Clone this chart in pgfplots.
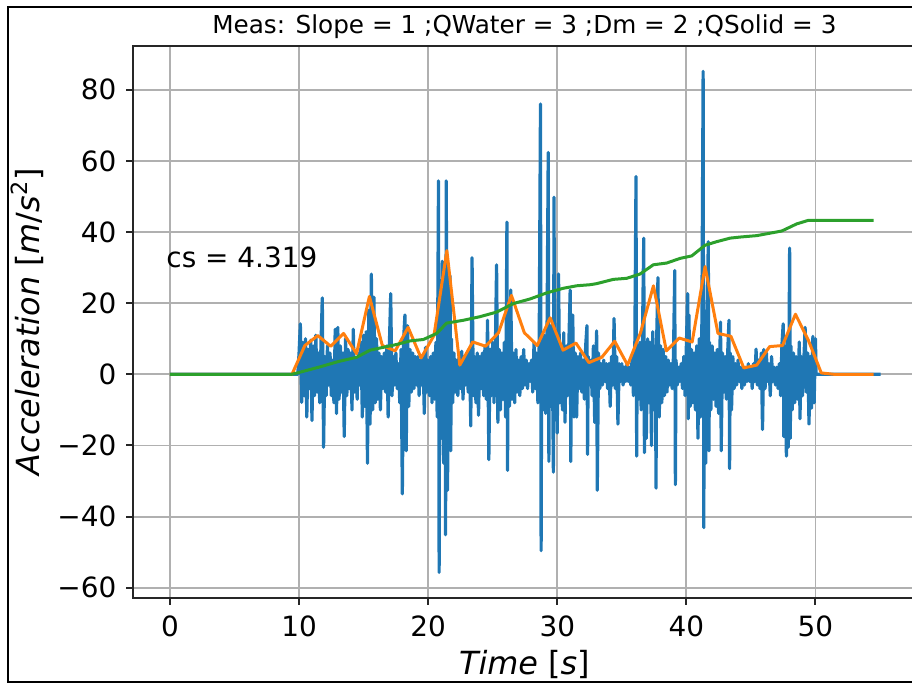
\documentclass[border=0pt]{standalone}
\usepackage{fontspec}
\setmainfont{DejaVu Sans}
\usepackage{pgfplots}
\pgfplotsset{compat=1.18}

\definecolor{mblue}{HTML}{1F77B4}
\definecolor{morange}{HTML}{FF7F0E}
\definecolor{mgreen}{HTML}{2CA02C}
\definecolor{mgrid}{HTML}{B0B0B0}
\definecolor{mspine}{HTML}{262626}

\begin{document}
\begin{tikzpicture}
\useasboundingbox (0,0) rectangle (456bp,343.5bp);
\clip (0,0) rectangle (456bp,343.5bp);
\begin{axis}[
    at={(66.65bp,44.65bp)}, anchor=south west,
    scale only axis,
    width=391.1bp, height=276bp,
    xmin=-2.84, xmax=57.75,
    ymin=-62.8, ymax=92.4,
    xtick={0,10,20,30,40,50},
    ytick={-60,-40,-20,0,20,40,60,80},
    yticklabels={−60,−40,−20,0,20,40,60,80},
    /pgf/number format/assume math mode=true,
    tick label style={font=\fontsize{14}{16}\selectfont, inner sep=0pt},
    xticklabel style={yshift=-5.2bp},
    yticklabel style={xshift=-4.8bp},
    tick pos=left,
    tick align=outside,
    major tick length=3.5bp,
    tick style={mspine, line width=1bp},
    axis line style={mspine, line width=1bp},
    grid=major,
    major grid style={mgrid, line width=0.9bp},
    every axis title/.style={at={(axis description cs:0.5,1.023)}, anchor=base, font=\fontsize{12.4}{14}\selectfont},
    title={Meas: Slope = 1 ;QWater = 3 ;Dm = 2 ;QSolid = 3},
    every axis x label/.style={at={(axis description cs:0.5,-0.14)}, anchor=base, font=\fontsize{16}{19}\selectfont},
    xlabel={\textit{Time} [\textit{s}]},
    every axis y label/.style={at={(axis description cs:-0.1193,0.5)}, rotate=90, anchor=base, font=\fontsize{16}{19}\selectfont},
    ylabel={\textit{Acceleration} [\textit{m}/\textit{s}\textsuperscript{2}]},
    every axis plot/.append style={line width=1.5bp, line join=round},
]

% raw signal
\addplot[mblue, line width=1.6bp] coordinates {
(0,0) (9.8,0) (9.9,0)
(10.0,6) (10.1,14.2) (10.2,-7.9) (10.3,9) (10.4,-6) (10.5,10) (10.6,-12) (10.7,7) (10.8,-4) (10.9,9.6)
(11.0,-13) (11.1,8) (11.2,-6) (11.3,11) (11.4,-5) (11.5,6) (11.6,-8) (11.7,9) (11.8,21.5) (11.9,-20.5)
(12.0,5) (12.1,-6) (12.2,8) (12.3,-3) (12.4,6) (12.5,-6) (12.6,4) (12.7,-8) (12.8,12.7) (12.9,-11)
(13.0,13.2) (13.1,-7) (13.2,8) (13.3,-5) (13.4,6) (13.5,-17.5) (13.6,10) (13.7,-6) (13.8,7) (13.9,-4)
(14.0,6) (14.1,-10) (14.2,12.7) (14.3,-5) (14.4,4) (14.5,-7) (14.6,6) (14.7,-3) (14.8,9) (14.9,-12)
(15.0,11) (15.1,-9) (15.2,12) (15.3,-25) (15.4,18) (15.5,-14) (15.6,28.2) (15.7,-10) (15.8,21.7) (15.9,-8)
(16.0,10) (16.1,-7) (16.2,6) (16.3,-10) (16.4,5) (16.5,-4) (16.6,6) (16.7,-5) (16.8,8) (16.9,-12)
(17.0,9) (17.1,22.7) (17.2,-6) (17.3,5) (17.4,-3) (17.5,6) (17.6,-4) (17.7,3) (17.8,-8) (17.9,7)
(18.0,-33.6) (18.1,10) (18.2,16.7) (18.3,-21.5) (18.4,13.7) (18.5,-9) (18.6,7) (18.7,-5) (18.8,6) (18.9,-4)
(19.0,5) (19.1,-3) (19.2,5) (19.3,-6) (19.4,4) (19.5,-3) (19.6,5) (19.7,-11) (19.8,7.6) (19.9,-5)
(20.0,4) (20.1,-6) (20.2,5) (20.3,-8) (20.4,6) (20.5,-7) (20.6,9) (20.7,-12) (20.8,54.4) (20.85,-55.7)
(20.9,20) (21.0,-18) (21.1,31.8) (21.2,-25) (21.3,22) (21.35,-45.1) (21.4,54.4) (21.5,-32.6) (21.6,20) (21.7,27.7)
(21.75,-21.5) (21.8,10) (21.9,-8) (22.0,6) (22.1,-5) (22.2,4) (22.3,-6) (22.4,5) (22.5,-4) (22.6,6.5)
(22.7,-7) (22.8,5) (22.9,-3) (23.0,6) (23.1,-5) (23.2,7) (23.3,-14.5) (23.4,32.8) (23.5,-6) (23.6,5)
(23.7,-8) (23.8,6) (23.9,-11.5) (24.0,5) (24.1,-4) (24.2,6) (24.3,-6) (24.4,8) (24.5,-7) (24.6,15.2)
(24.7,-24) (24.8,7) (24.9,-6) (25.0,9) (25.1,-8) (25.2,6) (25.3,30.8) (25.4,-13.5) (25.5,7) (25.6,-10)
(25.7,6) (25.8,-7) (25.9,9) (26.0,-12) (26.1,42.8) (26.15,-27) (26.2,12) (26.3,-9) (26.4,23.7) (26.5,-7)
(26.6,6) (26.7,-8) (26.8,7) (26.9,-5) (27.0,4) (27.1,-6) (27.2,5) (27.3,-4) (27.4,7) (27.5,-3)
(27.6,4) (27.7,-4) (27.8,3) (27.9,-2) (28.0,4) (28.1,-5) (28.2,9) (28.3,-4) (28.4,6) (28.5,-8)
(28.6,8.6) (28.7,76) (28.75,-49.6) (28.8,10) (28.9,-10) (29.0,11) (29.1,-11) (29.2,8) (29.3,62.4) (29.35,-24.5)
(29.4,12) (29.5,-9) (29.6,14) (29.7,-27.5) (29.75,49.8) (29.8,-12) (29.9,10) (30.0,-16.5) (30.1,28.2) (30.2,-8)
(30.3,7) (30.4,-10) (30.5,11.7) (30.6,-13.5) (30.7,8) (30.8,-6) (30.9,9) (31.0,23.7) (31.05,-24.5) (31.1,7)
(31.2,16.7) (31.3,-12) (31.4,6) (31.5,-12) (31.6,5) (31.7,-4) (31.8,6) (31.9,-5) (32.0,4) (32.1,-7)
(32.2,8) (32.3,13.7) (32.35,-22.5) (32.4,5) (32.5,-3) (32.6,4) (32.7,-6) (32.8,8) (32.9,-13.5) (33.0,5)
(33.05,12.2) (33.1,-32.6) (33.2,6) (33.3,-4) (33.4,3) (33.5,-3) (33.6,4) (33.7,-2) (33.8,3) (33.9,-4)
(34.0,3) (34.1,-9) (34.2,5) (34.3,-3) (34.4,15.7) (34.5,-4) (34.6,5) (34.7,-14) (34.8,3) (34.9,-2)
(35.0,3) (35.1,-3) (35.2,2) (35.3,-2) (35.4,3) (35.5,-2) (35.6,2) (35.7,-3) (35.8,5) (35.9,-6)
(36.0,4) (36.1,55.6) (36.15,-23) (36.2,8) (36.3,-7) (36.4,9) (36.5,-10) (36.6,11) (36.7,38.3) (36.75,-22)
(36.8,8) (36.9,-18) (37.0,10) (37.1,-8) (37.2,9) (37.3,-20) (37.4,12) (37.5,-10) (37.6,8) (37.65,-32)
(37.7,10) (37.8,27.2) (37.9,-12) (38.0,8) (38.1,-8) (38.2,7) (38.3,-6) (38.4,5) (38.5,-5) (38.6,4)
(38.7,-3) (38.8,3) (38.9,-4) (39.0,5) (39.1,29.2) (39.15,-31) (39.2,4) (39.3,-3) (39.4,2) (39.5,-2)
(39.6,3) (39.7,-4) (39.8,5) (39.9,-6) (40.0,8) (40.1,22.7) (40.15,-12.5) (40.2,16.7) (40.3,-9) (40.4,7)
(40.5,-8) (40.6,6) (40.7,-10) (40.8,8) (40.9,-18) (41.0,10) (41.1,-12) (41.2,14) (41.3,85.2) (41.35,-43.1)
(41.4,18) (41.5,-25) (41.6,15) (41.7,37.3) (41.75,-21.5) (41.8,9) (41.9,-10) (42.0,8) (42.1,-7) (42.2,6)
(42.3,-9) (42.4,7) (42.5,-11) (42.6,8) (42.65,14.7) (42.7,-21.5) (42.8,6) (42.9,-5) (43.0,5) (43.1,-7)
(43.2,6) (43.3,15.2) (43.35,-26.5) (43.4,6) (43.5,-10) (43.6,5) (43.7,-4) (43.8,3) (43.9,-3) (44.0,4)
(44.1,-2) (44.2,2) (44.3,-4) (44.4,2) (44.5,-3) (44.6,2) (44.7,-2) (44.8,3) (44.9,-2) (45.0,2)
(45.1,-4) (45.2,3) (45.3,-2) (45.4,7.1) (45.5,-3) (45.6,4) (45.7,-4) (45.8,6) (45.9,-15.5) (46.0,7)
(46.1,-4) (46.2,6) (46.3,-2) (46.4,3) (46.5,-6) (46.6,5) (46.7,-2) (46.8,2) (46.9,-3) (47.0,2)
(47.1,-4) (47.2,3) (47.3,-6) (47.4,8) (47.5,14.2) (47.55,-17.5) (47.6,8) (47.7,-12) (47.75,-23) (47.8,10)
(47.9,-20.5) (48.0,35.5) (48.05,-18) (48.1,8) (48.2,-10) (48.3,6) (48.4,-8) (48.5,5) (48.6,-7) (48.75,9.1)
(48.8,-12.5) (48.9,5) (49.0,-6) (49.1,4) (49.2,13.2) (49.3,-5) (49.4,6) (49.5,-14) (49.6,5) (49.7,-9.5)
(49.8,10.7) (49.9,-8) (50.0,10) (50.05,0) (55.05,0)
};

% envelope
\addplot[morange] coordinates {
(0,0) (9.45,0) (10.45,8.1) (11.45,10.9) (12.45,7.9) (13.45,11.5) (14.45,5.8)
(15.45,21.9) (16.45,8.1) (17.45,6.6) (18.45,13.2) (19.45,4.6) (20.45,10.9)
(21.45,34.8) (22.45,2.6) (23.45,9.1) (24.45,7.9) (25.45,11.7) (26.45,22.2)
(27.45,11.7) (28.45,8.1) (29.45,15.9) (30.45,6.8) (31.45,8.8) (32.45,3.3)
(33.45,4.8) (34.45,9.3) (35.45,2.6) (36.45,11.7) (37.45,24.9) (38.45,6.6)
(39.45,10.2) (40.45,9.1) (41.45,30.3) (42.45,11.5) (43.45,10.7) (44.45,1.8)
(45.45,2.6) (46.45,7.8) (47.45,8.1) (48.45,16.9) (49.45,9.6) (50.45,0.4)
(51.45,0) (52.45,0) (53.45,0) (54.5,0)
};

% cumulative
\addplot[mgreen] coordinates {
(0,0) (9.42,0) (10.07,0.6) (11.62,2.1) (13.04,3.6) (14.46,4.8) (15.5,6.8)
(16.53,7.6) (17.56,8.4) (18.6,9.4) (19.63,9.8) (20.66,11.5) (21.43,14.4)
(22.72,15.2) (24.0,16.2) (25.3,17.5) (26.6,19.9) (27.9,21.2) (29.18,22.9)
(30.47,24.2) (31.51,24.9) (32.54,25.2) (33.05,25.5) (34.34,26.7) (35.38,27.0)
(36.41,28.2) (37.44,30.8) (38.48,31.3) (39.51,32.6) (40.42,33.3) (41.45,36.3)
(42.35,37.3) (43.39,38.3) (44.16,38.6) (45.45,39.0) (47.39,40.3) (48.55,42.3)
(49.45,43.3) (54.5,43.3)
};

\node[anchor=base west, inner sep=0pt, font=\fontsize{14}{16}\selectfont] at (axis cs:-0.3,30) {cs = 4.319};
\end{axis}
\draw[black, line width=1bp] (457bp,340.15bp) -- (4.15bp,340.15bp) -- (4.15bp,2.65bp) -- (457bp,2.65bp);
\end{tikzpicture}
\end{document}
